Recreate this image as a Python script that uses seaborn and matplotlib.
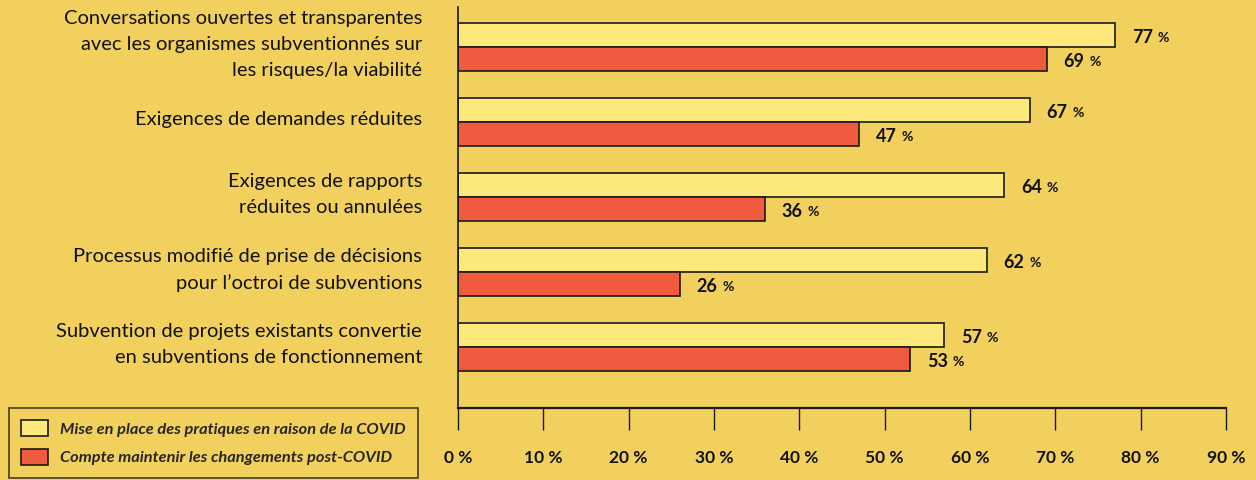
import matplotlib
matplotlib.use("Agg")
import matplotlib.pyplot as plt
import matplotlib.transforms as mtransforms
import seaborn as sns
import pandas as pd
from matplotlib.patches import Patch

categories = [
    "Conversations ouvertes et transparentes\navec les organismes subventionnés sur\nles risques/la viabilité",
    "Exigences de demandes réduites",
    "Exigences de rapports\nréduites ou annulées",
    "Processus modifié de prise de décisions\npour l’octroi de subventions",
    "Subvention de projets existants convertie\nen subventions de fonctionnement",
]
series_names = [
    "Mise en place des pratiques en raison de la COVID",
    "Compte maintenir les changements post-COVID",
]
mise_en_place = [77, 67, 64, 62, 57]
maintenir = [69, 47, 36, 26, 53]
tick_values = [0, 10, 20, 30, 40, 50, 60, 70, 80, 90]
tick_labels = [f"{v} %" for v in tick_values]

BG = "#F2D05E"
YEL = "#FDE87B"
RED = "#F05A3E"
EDGE = "#1A1A1A"
TXT = "#111111"

sns.set_theme(style="white")
plt.rcParams["font.family"] = ["Lato", "DejaVu Sans"]

df = pd.DataFrame({
    "cat": categories * 2,
    "serie": [series_names[0]] * 5 + [series_names[1]] * 5,
    "val": mise_en_place + maintenir,
})

fig = plt.figure(figsize=(12.56, 4.8), dpi=100, facecolor=BG)
ax = fig.add_axes([458 / 1256, 1 - 408 / 480, (1226 - 458) / 1256, (408 - 7) / 480])
ax.set_facecolor(BG)

sns.barplot(data=df, y="cat", x="val", hue="serie", orient="h",
            palette=[YEL, RED], saturation=1, edgecolor=EDGE, linewidth=1.2,
            width=0.64, gap=0, dodge=True, legend=False, ax=ax)

ax.set_xlim(0, 90)
ax.set_ylim(4.813, -0.533)
ax.set_xlabel("")
ax.set_ylabel("")

ax.set_xticks(tick_values)
ax.set_xticklabels(tick_labels, fontsize=12.5, fontweight="bold", color=TXT)
ax.tick_params(axis="x", bottom=True, direction="out", length=16, width=1.0,
               color=EDGE, pad=14)

# category labels (drawn as text, right-aligned left of the axis)
ax.set_yticks(range(len(categories)))
ax.set_yticklabels([])
ax.tick_params(axis="y", left=False, length=0)
cat_tr = mtransforms.blended_transform_factory(ax.transAxes, ax.transData) + \
    mtransforms.ScaledTranslation(-26 / 72, 1.5 / 72, fig.dpi_scale_trans)
for i, c in enumerate(categories):
    ax.text(0, i, c, transform=cat_tr, ha="right", va="center",
            fontsize=14.5, color=TXT, linespacing=1.64)

for s in ["top", "right"]:
    ax.spines[s].set_visible(False)
ax.spines["left"].set_color(EDGE)
ax.spines["left"].set_linewidth(1.2)
ax.spines["bottom"].set_color(EDGE)
ax.spines["bottom"].set_linewidth(1.6)

# value labels: bold number followed by a smaller "%"
def value_label(v, y):
    t = ax.annotate(f"{v}", xy=(v, y), xytext=(12, -2), textcoords="offset points",
                    va="center", ha="left", fontsize=13, fontweight="bold", color=TXT)
    ax.annotate("%", xy=(1, 0), xycoords=t, xytext=(3.5, 1.5), textcoords="offset points",
                va="bottom", ha="left", fontsize=10, fontweight="bold", color=TXT)

for i, (a, b) in enumerate(zip(mise_en_place, maintenir)):
    value_label(a, i - 0.16)
    value_label(b, i + 0.16)

# legend
handles = [Patch(facecolor=YEL, edgecolor=EDGE, linewidth=1.2),
           Patch(facecolor=RED, edgecolor=EDGE, linewidth=1.2)]
leg = fig.legend(handles, series_names, loc="upper left",
                 bbox_to_anchor=(9 / 1256, 1 - 408 / 480), frameon=True,
                 prop={"family": ["Lato", "DejaVu Sans"], "size": 11.8,
                       "weight": "bold", "style": "italic"},
                 handlelength=1.6, handleheight=1.1, handletextpad=0.75,
                 labelspacing=0.75, borderpad=0.75, borderaxespad=0,
                 fancybox=False)
leg.get_frame().set_facecolor(BG)
leg.get_frame().set_edgecolor(EDGE)
leg.get_frame().set_linewidth(1.2)

fig.savefig("out.png", dpi=100, facecolor=BG)
